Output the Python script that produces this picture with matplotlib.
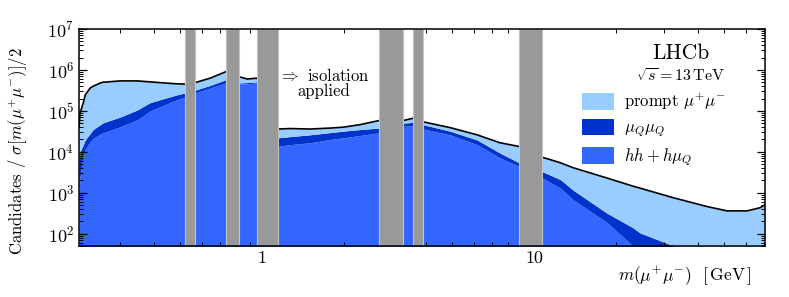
import numpy as np
import matplotlib
matplotlib.use("Agg")
import matplotlib.pyplot as plt
from matplotlib.patches import Patch
from matplotlib.ticker import FixedLocator, NullFormatter, FuncFormatter, LogLocator

plt.rcParams['font.family'] = 'serif'
plt.rcParams['font.serif'] = ['cmr10']
plt.rcParams['mathtext.fontset'] = 'cm'
plt.rcParams['axes.unicode_minus'] = False
plt.rcParams['axes.formatter.use_mathtext'] = True

# dimuon mass [GeV]
mass = [0.212, 0.214, 0.220, 0.2235, 0.233, 0.239, 0.254, 0.260, 0.301, 0.347,
        0.388, 0.479, 0.521, 0.567, 0.644, 0.737, 0.823, 0.881, 0.958, 1.145,
        1.267, 1.50, 1.78, 1.99, 2.29, 2.69, 3.30, 3.59, 3.91, 4.91,
        6.17, 7.50, 8.81, 10.7, 12.5, 13.9, 18.5, 23.1, 24.5, 32.4,
        43.3, 51.3, 60.7, 67.8, 70.7]

# stacked levels (top of each filled layer)
hh_top = [1.0e3, 2.5e3, 9.5e3, 1.15e4, 1.75e4, 2.1e4, 2.7e4, 2.9e4, 4.1e4, 6.0e4,
          1.0e5, 1.8e5, 2.2e5, 2.75e5, 3.6e5, 4.9e5, 4.6e5, 4.6e5, 4.8e5, 1.35e4,
          1.5e4, 1.66e4, 2.0e4, 2.2e4, 2.5e4, 2.9e4, 4.2e4, 4.3e4, 3.6e4, 2.6e4,
          1.5e4, 7.1e3, 4.4e3, 2.3e3, 1.3e3, 680, 190, 50, 40, 15,
          10, 6, 4, 3, 2]
muq_top = [5.0e3, 1.0e4, 1.5e4, 1.95e4, 2.8e4, 3.5e4, 4.6e4, 5.1e4, 7.1e4, 1.05e5,
           1.6e5, 2.4e5, 2.75e5, 3.2e5, 4.2e5, 5.8e5, 4.8e5, 4.9e5, 5.1e5, 2.2e4,
           2.35e4, 2.6e4, 2.95e4, 3.2e4, 3.5e4, 3.8e4, 5.0e4, 5.25e4, 4.6e4, 3.2e4,
           1.95e4, 9.3e3, 5.4e3, 3.3e3, 2.1e3, 1.17e3, 320, 140, 105, 51,
           20, 10, 6, 4, 3]
total = [4.0e4, 8.9e4, 1.6e5, 2.45e5, 3.6e5, 4.0e5, 4.8e5, 5.0e5, 5.4e5, 5.4e5,
         5.1e5, 4.6e5, 4.5e5, 4.9e5, 6.3e5, 9.1e5, 6.8e5, 6.0e5, 6.3e5, 3.6e4,
         3.7e4, 3.6e4, 3.8e4, 4.0e4, 4.6e4, 5.8e4, 5.8e4, 6.6e4, 5.4e4, 3.9e4,
         2.6e4, 1.66e4, 1.35e4, 7.4e3, 5.4e3, 4.1e3, 2.3e3, 1.45e3, 1.3e3, 760,
         460, 360, 360, 430, 510]

# vetoed resonance windows [GeV]
veto_lo = [0.52, 0.737, 0.958, 2.69, 3.59, 8.81]
veto_hi = [0.567, 0.823, 1.145, 3.30, 3.91, 10.7]

labels = [r'prompt $\mu^{+}\mu^{-}$', r'$\mu_{Q}\mu_{Q}$', r'$hh + h\mu_{Q}$']
colors = ['#99ccff', '#0033cc', '#3366ff']

W, H = 789, 297
fig = plt.figure(figsize=(W / 100, H / 100), dpi=100)
ax = fig.add_axes([79 / W, 1 - 246 / H, 686 / W, 217 / H])

floor = np.full(len(mass), 1.0)
ax.fill_between(mass, floor, hh_top, color=colors[2], lw=0, zorder=1)
ax.fill_between(mass, hh_top, muq_top, color=colors[1], lw=0, zorder=1)
ax.fill_between(mass, muq_top, total, color=colors[0], lw=0, zorder=1)
ax.plot(mass, total, color='black', lw=1.2, zorder=2)

for lo, hi in zip(veto_lo, veto_hi):
    ax.axvspan(lo, hi, facecolor='#999999', edgecolor='#c4c4c4', lw=0.8, zorder=3)

ax.set_xscale('log')
ax.set_yscale('log')
ax.set_xlim(0.212, 70.7)
ax.set_ylim(50, 1e7)

ax.xaxis.set_major_locator(FixedLocator([1, 10]))
ax.xaxis.set_major_formatter(FuncFormatter(lambda v, p: '%d' % v))
ax.xaxis.set_minor_locator(LogLocator(base=10, subs=np.arange(2, 10)))
ax.xaxis.set_minor_formatter(NullFormatter())
ax.yaxis.set_major_locator(LogLocator(base=10, numticks=10))
ax.yaxis.set_minor_locator(LogLocator(base=10, subs=np.arange(2, 10), numticks=20))
ax.yaxis.set_minor_formatter(NullFormatter())

ax.tick_params(which='both', direction='in', top=True, right=True, labelsize=13, zorder=4)
ax.tick_params(which='major', length=6, width=0.9)
ax.tick_params(which='minor', length=3, width=0.7)
for s in ax.spines.values():
    s.set_linewidth(1.1)
    s.set_zorder(5)


def fxy(x, y):
    return x / W, 1 - y / H


fig.text(*fxy(752, 276), r'$m(\mu^{+}\mu^{-})$  $[\,\mathrm{GeV}\,]$',
         ha='right', va='center', fontsize=12.5)
fig.text(*fxy(18, 151), r'Candidates / $\sigma[m(\mu^{+}\mu^{-})]/2$',
         rotation=90, ha='center', va='center', fontsize=12)

fig.text(*fxy(681, 53), 'LHCb', fontsize=15.5, ha='center', va='center')
fig.text(*fxy(681, 76), r'$\sqrt{s} = 13\,\mathrm{TeV}$', ha='center', va='center', fontsize=11.5)
fig.text(*fxy(324, 83), '$\\Rightarrow$ isolation\napplied', ha='center', va='center',
         fontsize=12, linespacing=0.95)

handles = [Patch(facecolor=c, edgecolor='none') for c in colors]
ax.legend(handles, labels, loc='upper left', bbox_to_anchor=((582 - 79) / 686, (246 - 91) / 217),
          frameon=False, fontsize=12, borderpad=0, borderaxespad=0, handlelength=1.9,
          handleheight=1.15, labelspacing=0.4, handletextpad=0.6)

fig.savefig('out.png', dpi=100)
